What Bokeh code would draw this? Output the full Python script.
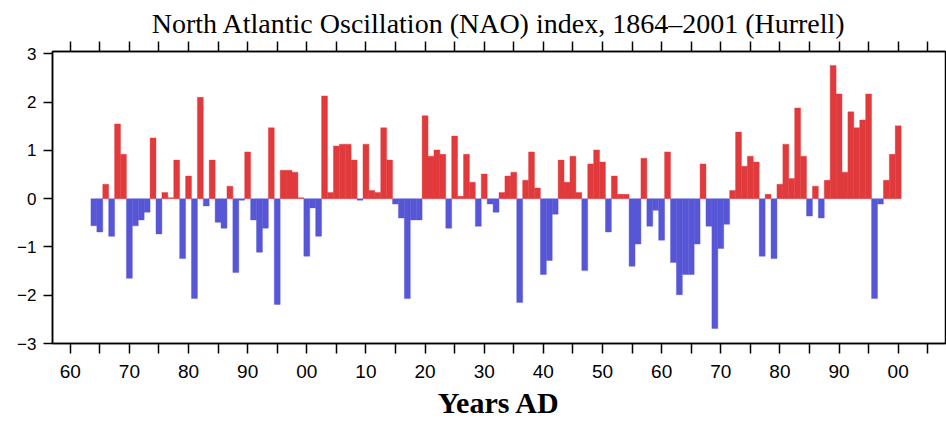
from bokeh.plotting import figure
from bokeh.models import Range1d, FixedTicker, LinearAxis, ColumnDataSource, Title
from bokeh.embed import file_html
from bokeh.resources import INLINE

# ---- data ----
first_year = 1864
nao_index = [
    -0.56, -0.69, 0.30, -0.78, 1.55, 0.92, -1.65, -0.56, -0.44, -0.28,   # 1864-1873
    1.26, -0.73, 0.13, 0.02, 0.80, -1.24, 0.47, -2.07, 2.10, -0.15,      # 1874-1883
    0.80, -0.49, -0.61, 0.26, -1.53, -0.03, 0.97, -0.44, -1.11, -0.61,   # 1884-1893
    1.47, -2.19, 0.59, 0.59, 0.55, 0.02, -1.19, -0.19, -0.78, 2.13,      # 1894-1903
    0.13, 1.09, 1.13, 1.13, 0.80, -0.03, 1.13, 0.17, 0.13, 1.47,         # 1904-1913
    0.80, -0.11, -0.40, -2.07, -0.44, -0.44, 1.72, 0.88, 1.01, 0.92,     # 1914-1923
    -0.61, 1.30, 0.05, 0.92, 0.34, -0.57, 0.51, -0.11, -0.28, 0.13,      # 1924-1933
    0.47, 0.55, -2.15, 0.38, 0.97, 0.22, -1.57, -1.28, -0.32, 0.80,      # 1934-1943
    0.34, 0.88, 0.13, -1.49, 0.72, 1.01, 0.76, -0.69, 0.47, 0.09,        # 1944-1953
    0.09, -1.40, -0.94, 0.84, -0.57, -0.24, -0.86, 0.97, -1.32, -1.99,   # 1954-1963
    -1.57, -1.57, -0.94, 0.72, -0.57, -2.69, -1.03, -0.53, 0.17, 1.38,   # 1964-1973
    0.67, 0.88, 0.76, -1.19, 0.09, -1.24, 0.30, 1.13, 0.42, 1.88,        # 1974-1983
    0.88, -0.36, 0.26, -0.40, 0.38, 2.76, 2.17, 0.55, 1.80, 1.47,        # 1984-1993
    1.63, 2.17, -2.07, -0.11, 0.38, 0.92, 1.51,                          # 1994-2000
]
years = [first_year + i for i in range(len(nao_index))]

x_ticks = list(range(1860, 2006, 5))
x_tick_labels = {t: (f"{t % 100:02d}" if t % 10 == 0 else "") for t in x_ticks}
y_ticks = [-3, -2, -1, 0, 1, 2, 3]
y_tick_labels = {t: (f"\u2212{abs(t)}" if t < 0 else str(t)) for t in y_ticks}

POS = "#e13a3c"
NEG = "#5656d6"
colors = [POS if v >= 0 else NEG for v in nao_index]

src = ColumnDataSource(dict(year=years, value=nao_index, color=colors))

p = figure(width=946, height=421, output_backend="svg", toolbar_location=None,
           x_range=Range1d(1857.0, 2008.0), y_range=Range1d(-3.0, 3.05),
           min_border_left=52, min_border_right=1, min_border_top=51, min_border_bottom=77,
           x_axis_location="below")
p.title = Title(text="North Atlantic Oscillation (NAO) index, 1864\u20132001 (Hurrell)",
                align="center", text_font="Liberation Serif", text_font_size="28px",
                text_font_style="normal", text_color="black", offset=0, standoff=5)

p.vbar(x="year", top="value", bottom=0, width=1.0, source=src,
       fill_color="color", line_color="color", line_width=0.4)

p.xgrid.visible = False
p.ygrid.visible = False
p.outline_line_color = "black"
p.outline_line_width = 1.5
p.background_fill_color = "white"
p.border_fill_color = "white"

xa = p.xaxis[0]
xa.ticker = FixedTicker(ticks=x_ticks)
xa.major_label_overrides = x_tick_labels
xa.major_tick_out = 10
xa.major_tick_in = 0
xa.minor_tick_line_color = None
xa.major_tick_line_width = 1.5
xa.axis_line_width = 1.5
xa.major_label_text_font = "Liberation Sans"
xa.major_label_text_font_size = "19px"
xa.major_label_text_color = "black"
xa.major_label_standoff = 11
xa.axis_label = "Years AD"
xa.axis_label_text_font = "Liberation Serif"
xa.axis_label_text_font_size = "30px"
xa.axis_label_text_font_style = "bold"
xa.axis_label_text_color = "black"
xa.axis_label_standoff = 5

top = LinearAxis(ticker=FixedTicker(ticks=x_ticks))
top.major_label_overrides = {t: "" for t in x_ticks}
top.major_label_text_font_size = "0px"
top.major_label_standoff = 0
top.major_tick_out = 10
top.major_tick_in = 0
top.minor_tick_line_color = None
top.major_tick_line_width = 1.5
top.axis_line_width = 1.5
p.add_layout(top, "above")

ya = p.yaxis[0]
ya.ticker = FixedTicker(ticks=y_ticks)
ya.major_label_overrides = y_tick_labels
ya.major_tick_out = 9
ya.major_tick_in = 0
ya.minor_tick_line_color = None
ya.major_tick_line_width = 1.5
ya.axis_line_width = 1.5
ya.major_label_text_font = "Liberation Sans"
ya.major_label_text_font_size = "17px"
ya.major_label_text_color = "black"
ya.major_label_standoff = 7

open("out.html", "w").write(file_html(p, INLINE))
